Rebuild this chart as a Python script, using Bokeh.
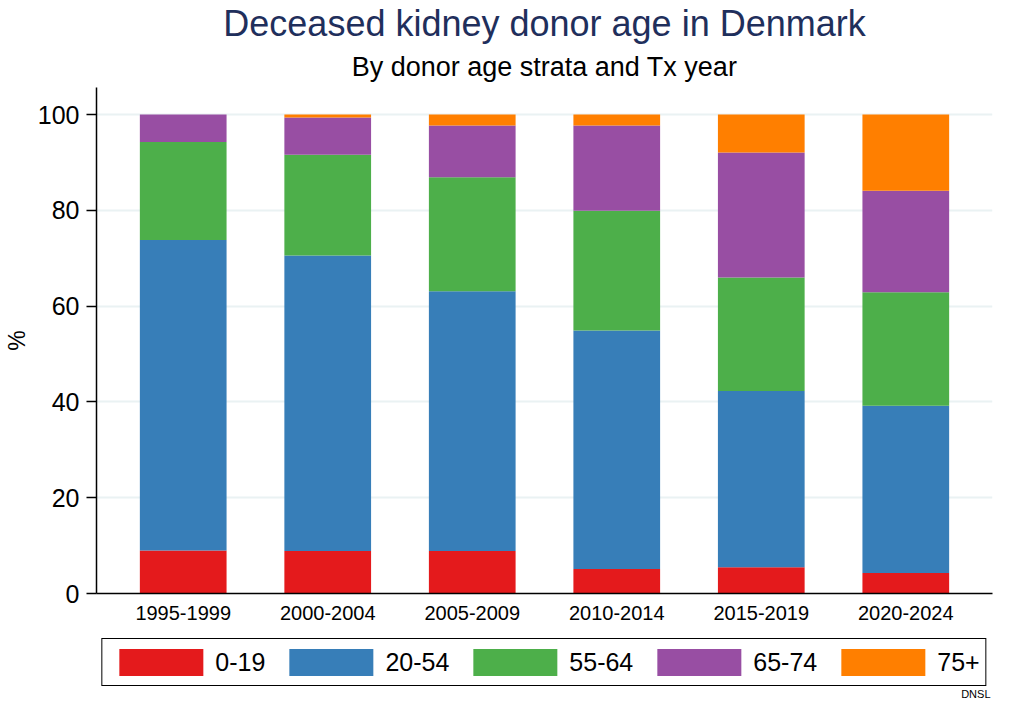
from bokeh.plotting import figure
from bokeh.layouts import column
from bokeh.models import (ColumnDataSource, Legend, LegendItem, Title, FixedTicker, Range1d, Label)
from bokeh.embed import file_html
from bokeh.resources import INLINE

periods = ["1995-1999", "2000-2004", "2005-2009", "2010-2014", "2015-2019", "2020-2024"]
strata = ["0-19", "20-54", "55-64", "65-74", "75+"]
age_0_19 = [9.0, 8.9, 8.9, 5.1, 5.5, 4.3]
age_20_54 = [64.8, 61.7, 54.2, 49.8, 36.8, 34.9]
age_55_64 = [20.5, 21.0, 23.8, 25.0, 23.7, 23.7]
age_65_74 = [5.7, 7.8, 10.8, 17.8, 26.1, 21.2]
age_75_plus = [0.0, 0.6, 2.3, 2.3, 7.9, 15.9]
colors = ["#e41a1c", "#377eb8", "#4daf4a", "#984ea3", "#ff7f00"]
y_ticks = [0, 20, 40, 60, 80, 100]

FONT = "Liberation Sans"
xs = list(range(len(periods)))
source = ColumnDataSource(data={
    "x": xs,
    "0-19": age_0_19,
    "20-54": age_20_54,
    "55-64": age_55_64,
    "65-74": age_65_74,
    "75+": age_75_plus,
})

W = 994
H1 = 622
H2 = 699 - H1

p = figure(width=W, height=H1, output_backend="svg", toolbar_location=None,
           x_range=Range1d(-0.6, 5.6), y_range=Range1d(0, 105.66),
           min_border_left=0, min_border_right=2, min_border_top=0, min_border_bottom=0)
p.title = None

p.vbar_stack(strata, x="x", width=0.6, source=source, color=colors, line_color=None)

# titles
sub = Title(text="By donor age strata and Tx year", align="center", text_font=FONT,
            text_font_size="27px", text_font_style="normal", text_color="black",
            standoff=12)
p.add_layout(sub, "above")
main = Title(text="Deceased kidney donor age in Denmark", align="center", text_font=FONT,
             text_font_size="36px", text_font_style="normal", text_color="#1f2f5c",
             standoff=0)
p.add_layout(main, "above")

# axes
p.outline_line_color = None
p.xgrid.grid_line_color = None
p.ygrid.grid_line_color = "#eaf2f3"
p.ygrid.grid_line_width = 2

xa = p.xaxis[0]
xa.ticker = FixedTicker(ticks=xs)
xa.major_label_overrides = {i: lab for i, lab in enumerate(periods)}
xa.major_tick_out = 0
xa.major_tick_in = 0
xa.minor_tick_line_color = None
xa.major_label_standoff = 12
xa.major_label_text_font = FONT
xa.major_label_text_font_size = "20px"
xa.major_label_text_color = "black"
xa.axis_line_color = "black"
xa.axis_line_width = 1.5

ya = p.yaxis[0]
ya.ticker = FixedTicker(ticks=y_ticks)
ya.major_tick_out = 10
ya.major_tick_in = 0
ya.major_tick_line_width = 1.5
ya.minor_tick_line_color = None
ya.major_label_standoff = 7
ya.major_label_text_font = FONT
ya.major_label_text_font_size = "25px"
ya.major_label_text_color = "black"
ya.axis_label = "%"
ya.axis_label_text_font = FONT
ya.axis_label_text_font_size = "23px"
ya.axis_label_text_font_style = "normal"
ya.axis_label_text_color = "black"
ya.axis_label_standoff = 5
ya.axis_line_color = "black"
ya.axis_line_width = 1.5

# legend figure (its bars lie outside its visible range; only the legend shows)
lf = figure(width=W, height=H2, output_backend="svg", toolbar_location=None,
            x_range=Range1d(-0.6, 5.6), y_range=Range1d(500, 501),
            x_axis_type=None, y_axis_type=None, min_border=0)
lf.outline_line_color = None
lf.xgrid.grid_line_color = None
lf.ygrid.grid_line_color = None
lrs = lf.vbar_stack(strata, x="x", width=0.6, source=source, color=colors, line_color=None)

legend = Legend(items=[LegendItem(label=s, renderers=[r]) for s, r in zip(strata, lrs)],
                orientation="horizontal", location="top_center",
                label_text_font=FONT, label_text_font_size="25px", label_text_color="black",
                label_standoff=2,
                glyph_width=105, glyph_height=34, spacing=13, padding=6, margin=16,
                border_line_color="black", border_line_width=1.5, border_line_alpha=1.0,
                background_fill_alpha=1.0, click_policy="none")
lf.add_layout(legend, "center")

credit = Label(x=5.6, y=0, x_units="data", y_units="screen", x_offset=-2, text="DNSL",
               text_font=FONT, text_font_size="11px", text_color="black",
               text_align="right", text_baseline="bottom")
lf.add_layout(credit)

layout = column(p, lf, spacing=0)
open("out.html", "w").write(file_html(layout, INLINE))
